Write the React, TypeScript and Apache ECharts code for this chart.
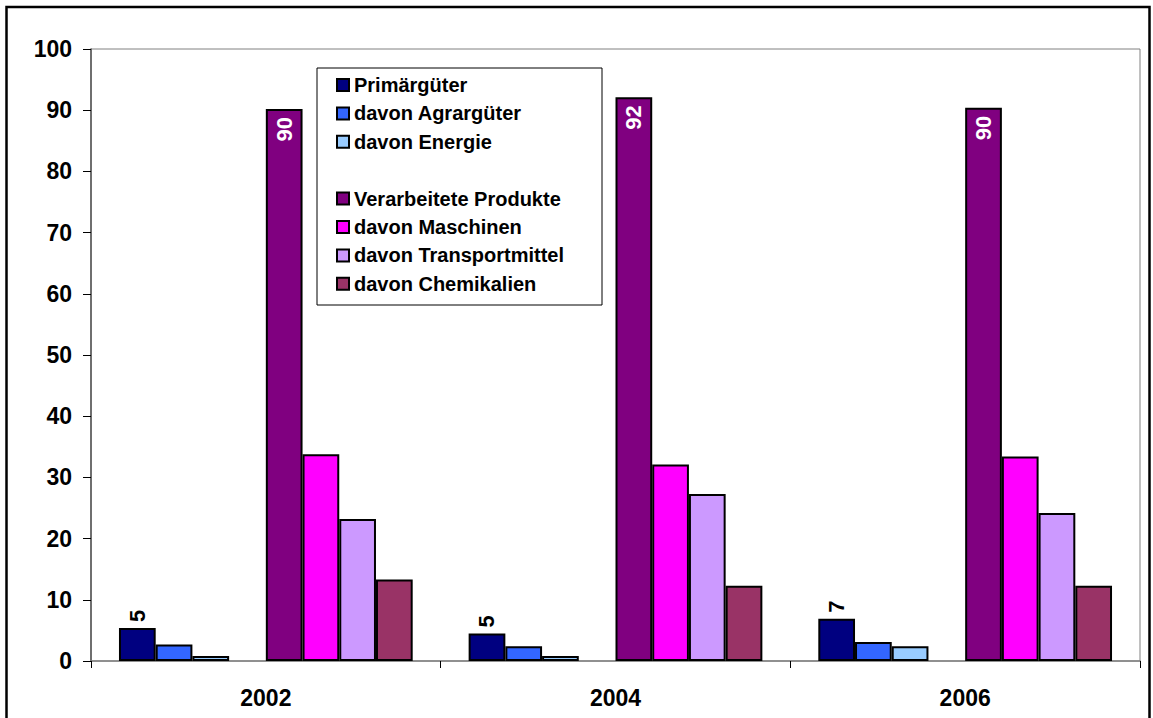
import React, { useEffect, useRef } from "react";
import * as echarts from "echarts";

const categories = ["2002", "2004", "2006"];
const seriesNames = [
  "Primärgüter",
  "davon Agrargüter",
  "davon Energie",
  " ",
  "Verarbeitete Produkte",
  "davon Maschinen",
  "davon Transportmittel",
  "davon Chemikalien",
];
const primaer = [5.4, 4.5, 6.9];
const agrar = [2.7, 2.4, 3.1];
const energie = [0.8, 0.8, 2.4];
const leer: (number | null)[] = [null, null, null];
const verarbeitet = [90.2, 92.1, 90.4];
const maschinen = [33.8, 32.1, 33.4];
const transport = [23.2, 27.3, 24.2];
const chemikalien = [13.3, 12.3, 12.3];
const yTicks = { min: 0, max: 100, interval: 10 };

const seriesData = [primaer, agrar, energie, leer, verarbeitet, maschinen, transport, chemikalien];
const colors = ["#000080", "#3366FF", "#99CCFF", "#ffffff", "#800080", "#FF00FF", "#CC99FF", "#993366"];

const FONT = '"Liberation Sans", Arial, sans-serif';

export default function App() {
  const ref = useRef<HTMLDivElement>(null);
  useEffect(() => {
    if (!ref.current) return;
    const chart = echarts.init(ref.current, undefined, { renderer: "svg" });
    const series = seriesData.map((d, i) => {
      const s: any = {
        name: seriesNames[i],
        type: "bar",
        data: d,
        barGap: "0%",
        barCategoryGap: "16%",
        itemStyle: { color: colors[i], borderColor: "#000", borderWidth: 2 },
        emphasis: { disabled: true },
      };
      if (i === 0) {
        s.label = {
          show: true,
          position: "top",
          rotate: 90,
          align: "left",
          verticalAlign: "middle",
          distance: 6,
          color: "#000",
          fontFamily: FONT,
          fontWeight: "bold",
          fontSize: 22,
          formatter: (p: any) => String(Math.round(p.value)),
        };
      }
      if (i === 4) {
        s.label = {
          show: true,
          position: "insideTop",
          rotate: 90,
          align: "right",
          verticalAlign: "middle",
          distance: 8,
          color: "#fff",
          fontFamily: FONT,
          fontWeight: "bold",
          fontSize: 22,
          formatter: (p: any) => String(Math.round(p.value)),
        };
      }
      return s;
    });
    chart.setOption({
      animation: false,
      backgroundColor: "#fff",
      grid: {
        left: 91,
        top: 49,
        right: 13,
        bottom: 57,
        show: true,
        borderColor: "#808080",
        borderWidth: 1,
        backgroundColor: "transparent",
      },
      legend: {
        orient: "vertical",
        left: 331,
        top: 70,
        itemWidth: 12,
        itemHeight: 12,
        itemGap: 8.4,
        icon: "rect",
        selectedMode: false,
        z: 6,
        textStyle: {
          fontFamily: FONT,
          fontWeight: "bold",
          fontSize: 20,
          lineHeight: 20,
          color: "#000",
        },
        data: seriesNames.map((n) => (n === " " ? { name: n, icon: "none" } : { name: n })),
      },
      xAxis: {
        type: "category",
        data: categories,
        axisLine: { lineStyle: { color: "#808080", width: 1.5 } },
        axisTick: { show: true, length: 7, interval: 0, lineStyle: { color: "#000" } },
        axisLabel: {
          margin: 25,
          color: "#000",
          fontFamily: FONT,
          fontWeight: "bold",
          fontSize: 23,
        },
      },
      yAxis: {
        type: "value",
        min: yTicks.min,
        max: yTicks.max,
        interval: yTicks.interval,
        axisLine: { show: true, lineStyle: { color: "#555", width: 1.5 } },
        axisTick: { show: true, length: 8, lineStyle: { color: "#000" } },
        splitLine: { show: false },
        axisLabel: {
          margin: 19,
          color: "#000",
          fontFamily: FONT,
          fontWeight: "bold",
          fontSize: 23,
        },
      },
      graphic: [
        {
          type: "rect",
          z: 5,
          shape: { x: 317, y: 68, width: 285, height: 237 },
          style: { fill: "#fff", stroke: "#000", lineWidth: 1 },
        },
        {
          type: "rect",
          z: 10,
          shape: { x: 6.5, y: 7, width: 1143, height: 740 },
          style: { fill: "none", stroke: "#000", lineWidth: 2.5 },
        },
      ],
      series,
    });
    return () => chart.dispose();
  }, []);
  return (
    <div
      ref={ref}
      style={{ position: "fixed", left: 0, top: 0, width: 1153, height: 718, background: "#fff" }}
    />
  );
}
